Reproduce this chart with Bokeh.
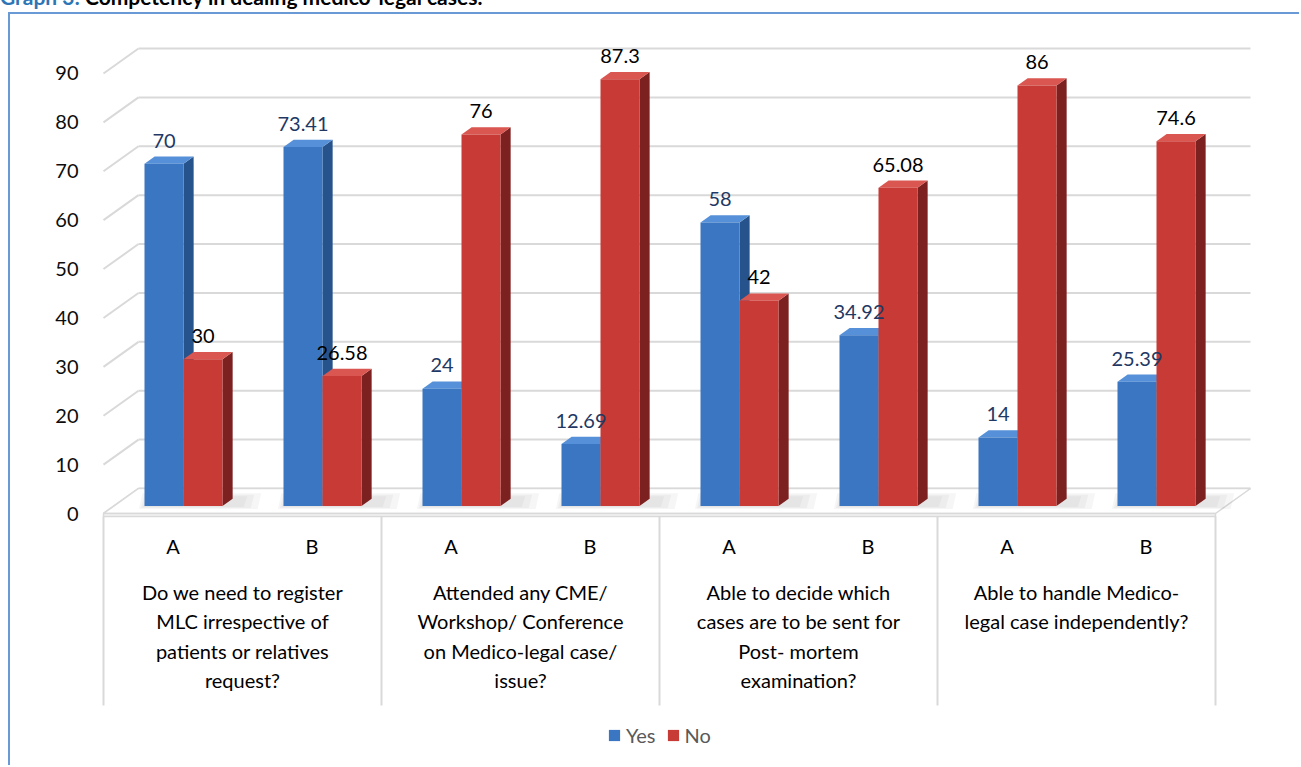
import numpy as np
from bokeh.plotting import figure
from bokeh.layouts import column
from bokeh.models import Range1d, FixedTicker, Legend, LegendItem, Div
from bokeh.core.properties import value
from bokeh.embed import file_html
from bokeh.resources import INLINE

# ---------------- data ----------------
title_prefix = "Graph 3:"
title_text = "Competency in dealing medico-legal cases."
categories = ["A", "B", "A", "B", "A", "B", "A", "B"]
groups = [
    "Do we need to register\nMLC irrespective of\npatients or relatives\nrequest?",
    "Attended any CME/\nWorkshop/ Conference\non Medico-legal case/\nissue?",
    "Able to decide which\ncases are to be sent for\nPost- mortem\nexamination?",
    "Able to handle Medico-\nlegal case independently?",
]
series_names = ["Yes", "No"]
yes_values = [70, 73.41, 24, 12.69, 58, 34.92, 14, 25.39]
no_values = [30, 26.58, 76, 87.3, 42, 65.08, 86, 74.6]
y_ticks = [0, 10, 20, 30, 40, 50, 60, 70, 80, 90]

# ---------------- geometry / style ----------------
PX_X = 139.0      # pixels per category
PX_Y = 4.889      # pixels per value unit
DX = 35.0 / PX_X  # full 3D depth offset (x, data units)
DY = 25.0 / PX_Y  # full 3D depth offset (y, data units)
D0 = 0.30         # depth where bars' front faces sit
DD = 0.29         # bar depth
BW = 39.0 / PX_X  # bar width

FONT = "Lato"
GRID = "#D9D9D9"
styles_by_series = [
    dict(front="#3A76C2", side="#27538C", top="#5690D8", label="#1F3864"),
    dict(front="#C83A35", side="#7C2020", top="#DA5650", label="#000000"),
]

n = len(categories)
cx = np.arange(n) + 0.5

title_div = Div(
    text=('<div style="position:relative; top:-13px; white-space:nowrap; '
          'font-family:Lato; font-weight:bold; font-size:21px; line-height:20px; color:#000;">'
          f'<span style="color:#2E75B6">{title_prefix}</span> {title_text}</div>'),
    width=1290, height=12, margin=(0, 0, 0, 0),
    styles={"overflow": "hidden"},
)

p = figure(
    width=1291, height=753, output_backend="svg", toolbar_location=None,
    x_range=Range1d((90 - 103) / PX_X, (1301 - 103) / PX_X),
    y_range=Range1d((513 - 767) / PX_Y, (513 - 14) / PX_Y),
    x_axis_location=None,
    min_border_left=80, min_border_right=0, min_border_top=0, min_border_bottom=0,
    background_fill_color="white", border_fill_color="white",
    outline_line_color=None,
    margin=(0, 0, 0, 8),
    styles={"border-left": "2px solid #6A9AD6", "border-top": "2px solid #6A9AD6"},
)
p.xgrid.visible = False
p.ygrid.visible = False

yax = p.yaxis[0]
yax.ticker = FixedTicker(ticks=y_ticks)
yax.axis_line_color = None
yax.major_tick_line_color = None
yax.minor_tick_line_color = None
yax.major_label_standoff = 6
yax.major_label_text_font = FONT
yax.major_label_text_font_size = "20px"
yax.major_label_text_color = "#0D0D0D"

ticks = np.array(y_ticks, dtype=float)

# left wall diagonals and back wall grid lines
p.segment(x0=np.zeros_like(ticks), y0=ticks, x1=np.full_like(ticks, DX), y1=ticks + DY,
          line_color=GRID, line_width=2)
p.segment(x0=np.full_like(ticks, DX), y0=ticks + DY, x1=np.full_like(ticks, n + DX), y1=ticks + DY,
          line_color=GRID, line_width=2)

# floor
p.patch(x=[0, n, n + DX, DX], y=[0, 0, DY, DY], fill_color="white", line_color=GRID, line_width=1.5)
p.quad(left=0, right=n, bottom=-0.6, top=0, fill_color="#F2F2F2", line_color=GRID, line_width=1.5)

# category axis dividers
div_x = np.arange(0, n + 1, 2, dtype=float)
p.segment(x0=div_x, y0=np.full_like(div_x, -0.6), x1=div_x, y1=np.full_like(div_x, (513 - 705) / PX_Y),
          line_color=GRID, line_width=2)

# soft bar shadows on the floor (layered for a blurred look)
b0 = D0 * DY
for k, grow in enumerate([0.0, 0.05, 0.10]):
    sh_l = cx - BW + D0 * DX - 0.01 - grow * 0.3
    sh_r = cx + BW + D0 * DX + DD * DX + 0.08 + grow
    sh_xs = [[l, r, r + 0.1 * DX, l + 0.1 * DX] for l, r in zip(sh_l, sh_r)]
    sh_ys = [[b0 - 0.2 - grow * 4, b0 - 0.2 - grow * 4, b0 + DD * DY + 0.5 + grow * 6,
              b0 + DD * DY + 0.5 + grow * 6] for _ in sh_l]
    p.patches(xs=sh_xs, ys=sh_ys, fill_color="#7F7F7F", fill_alpha=0.07, line_color=None)

legend_items = []
label_specs = []
for s, vals in enumerate([yes_values, no_values]):
    st = styles_by_series[s]
    vals = np.array(vals, dtype=float)
    xl = cx - BW + s * BW + D0 * DX
    xr = xl + BW
    b = D0 * DY
    t = vals + D0 * DY
    side_xs = [[r, r + DD * DX, r + DD * DX, r] for r in xr]
    side_ys = [[b, b + DD * DY, tt + DD * DY, tt] for tt in t]
    top_xs = [[l, r, r + DD * DX, l + DD * DX] for l, r in zip(xl, xr)]
    top_ys = [[tt, tt, tt + DD * DY, tt + DD * DY] for tt in t]
    p.patches(xs=side_xs, ys=side_ys, fill_color=st["side"], line_color=None)
    p.patches(xs=top_xs, ys=top_ys, fill_color=st["top"], line_color=None)
    front = p.quad(left=xl, right=xr, bottom=np.full_like(t, b), top=t,
                   fill_color=st["front"], line_color=None)
    legend_items.append(LegendItem(label=series_names[s], renderers=[front]))
    label_specs.append((xl + BW / 2, t + DD * DY, [f"{v:g}" for v in vals], st["label"]))

# data labels drawn after all bars so no bar hides them
for lx, ly, ltext, lcolor in label_specs:
    p.text(x=lx, y=ly, text=ltext,
           text_align="center", text_baseline="middle", y_offset=-16,
           text_font=value(FONT), text_font_size=value("20px"), text_color=lcolor)

# category labels
p.text(x=cx, y=np.full(n, (513 - 545) / PX_Y), text=categories,
       text_align="center", text_baseline="middle",
       text_font=value(FONT), text_font_size=value("20px"), text_color="#000000")
# group labels
gx = np.arange(len(groups)) * 2 + 1.0
p.text(x=gx, y=np.full(len(groups), (513 - 579) / PX_Y), text=groups,
       text_align="center", text_baseline="top", text_line_height=1.23,
       text_font=value(FONT), text_font_size=value("20px"), text_color="#000000")

legend = Legend(items=legend_items, orientation="horizontal", location=(517, 20),
                border_line_color=None, background_fill_alpha=0, padding=0, margin=0,
                glyph_width=14, glyph_height=14, label_standoff=5, spacing=10,
                label_text_font=FONT, label_text_font_size="20px", label_text_color="#595959")
p.add_layout(legend)

layout = column(title_div, p, spacing=0)
open("out.html", "w").write(file_html(layout, INLINE))
